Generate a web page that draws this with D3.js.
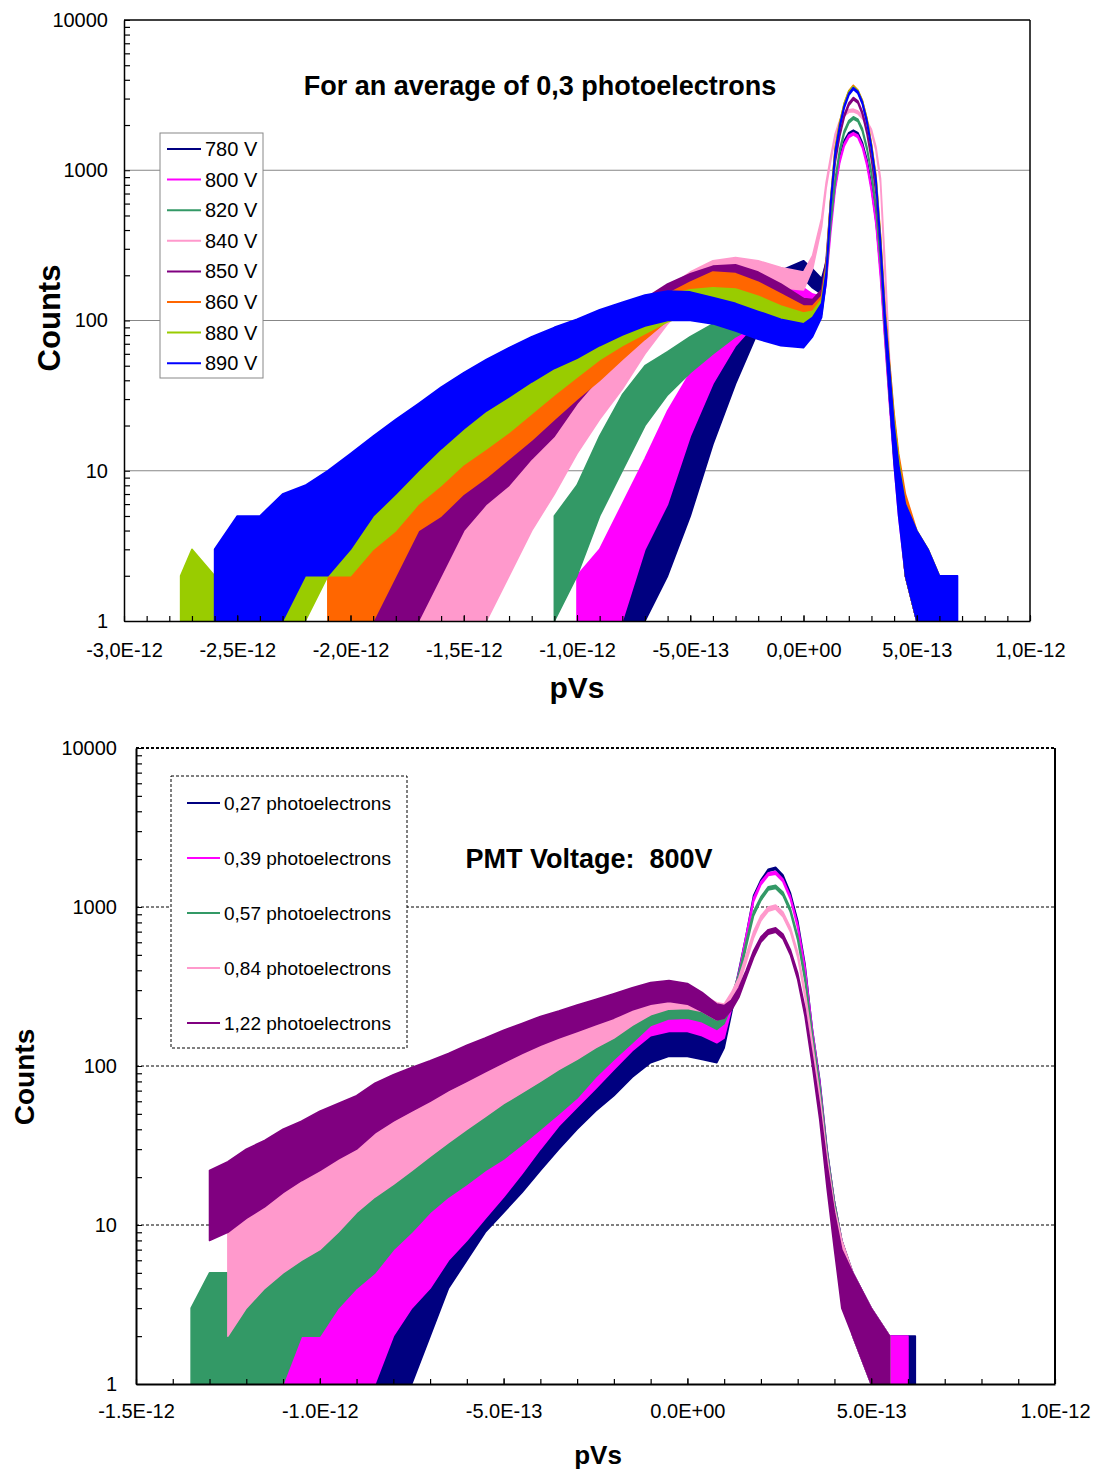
<!DOCTYPE html>
<html><head><meta charset="utf-8">
<script src="https://cdn.jsdelivr.net/npm/d3@7"></script>
<style>body{margin:0;background:#fff}svg{display:block}text{font-family:"Liberation Sans",Arial,sans-serif}</style>
</head><body><svg id="c" width="1101" height="1472"></svg>
<script>
const UNIT = 1e-12;
const N = null;
// ---------------- TOP CHART DATA (x in units of 1E-12 pVs; counts = lower/upper edge of the noise band) -------------
const topX = [-2.75,-2.7,-2.6,-2.5,-2.4, -2.3,-2.2,-2.1,-2.0,-1.9, -1.8,-1.7,-1.6,-1.5,-1.4, -1.3,-1.2,-1.1,-1.0,-0.9,
  -0.8,-0.7,-0.6,-0.5,-0.4, -0.3,-0.2,-0.1,0.0,0.04, 0.08,0.1,0.12,0.14,0.16, 0.18,0.2,0.22,0.24,0.26,
  0.28,0.3,0.32,0.34,0.36, 0.38,0.4,0.42,0.45,0.5, 0.55,0.6,0.65,0.68];
const topNames = ["780 V","800 V","820 V","840 V","850 V","860 V","880 V","890 V"];
const topColors = ["#000080","#FF00FF","#339966","#FF99CC","#800080","#FF6600","#99CC00","#0000FF"];
const lo780 = [N,N,N,N,N, N,N,N,N,N, N,N,N,N,N, N,N,N,N,1,
  1,1,2,5,15, 38,85,150,190,165, 150,210,430,780,1170, 1520,1720,1790,1720,1470,
  1120,760,455,210,75, 29,12,6,2,1, 1,N,N,N];
const hi780 = [N,N,N,N,N, N,N,N,N,N, N,N,N,N,N, N,N,N,N,2,
  3,5,10,20,42, 85,150,215,250,220, 190,245,470,830,1230, 1580,1780,1850,1780,1530,
  1180,800,485,230,88, 38,19,11,5,3, 2,N,N,N];
const lo800 = [N,N,N,N,N, N,N,N,N,N, N,N,N,N,N, N,N,N,1,1,
  1,3,6,17,38, 68,100,125,125,115, 115,175,380,740,1120, 1450,1650,1720,1650,1410,
  1070,720,435,190,70, 27,11,5,2,1, 1,N,N,N];
const hi800 = [N,N,N,N,N, N,N,N,N,N, N,N,N,N,N, N,N,N,2,3,
  6,12,25,45,72, 110,145,170,165,150, 145,205,420,790,1180, 1510,1710,1780,1710,1470,
  1130,760,465,210,82, 36,18,10,5,3, 2,N,N,N];
const lo820 = [N,N,N,N,N, N,N,N,N,N, N,N,N,N,N, N,N,1,2,5,
  10,20,32,45,60, 78,95,105,105,105, 110,185,430,820,1310, 1760,2060,2190,2110,1810,
  1370,930,540,240,80, 30,12,6,2,1, 1,N,N,N];
const hi820 = [N,N,N,N,N, N,N,N,N,N, N,N,N,N,N, N,N,5,8,17,
  32,50,62,78,95, 115,135,145,140,135, 140,215,470,880,1390, 1840,2140,2270,2190,1890,
  1430,980,580,265,95, 42,20,11,6,3, 2,N,N,N];
const lo840 = [N,N,N,N,N, N,N,N,N,N, N,1,1,1,1, 2,4,7,13,22,
  35,60,95,140,180, 190,182,165,160,220, 420,760,1150,1650,2050, 2300,2430,2450,2380,2200,
  2020,1780,1350,820,200, 42,14,6,2,1, 1,N,N,N];
const hi840 = [N,N,N,N,N, N,N,N,N,N, N,2,3,6,7, 10,16,26,40,60,
  85,125,165,210,250, 262,250,225,210,270, 480,830,1230,1750,2150, 2400,2530,2550,2480,2300,
  2120,1870,1430,880,240, 55,22,12,6,3, 2,N,N,N];
const lo850 = [N,N,N,N,N, N,N,N,1,1, 1,1,2,4,6, 8,12,17,28,42,
  60,85,115,145,170, 175,155,125,105,108, 130,225,580,1120,1680, 2250,2700,2950,2800,2350,
  1750,1170,700,290,90, 33,13,6,2,1, 1,N,N,N];
const hi850 = [N,N,N,N,N, N,N,N,2,2, 3,5,8,13,16, 20,30,45,62,82,
  108,140,175,205,230, 235,210,175,140,138, 160,255,630,1200,1760, 2350,2800,3050,2900,2450,
  1850,1240,750,320,110, 48,22,12,6,3, 2,N,N,N];
const lo860 = [N,N,N,N,N, N,N,1,1,1, 2,4,5,7,9, 12,16,22,30,40,
  55,75,100,130,155, 150,130,110,95,98, 120,200,590,1320,2000, 2700,3280,3580,3320,2820,
  2120,1420,860,330,95, 35,14,6,2,1, 1,1,1,N];
const hi860 = [N,N,N,N,N, N,N,2,3,5, 8,12,15,18,21, 26,33,42,55,72,
  92,120,150,180,210, 205,180,150,125,125, 145,230,650,1420,2100, 2800,3380,3680,3420,2920,
  2220,1500,920,370,120, 52,24,13,7,4, 3,2,2,N];
const lo880 = [1,1,1,1,1, 1,1,2,2,3, 4,6,8,11,14, 18,24,32,42,55,
  68,82,98,110,115, 112,98,88,82,88, 112,195,580,1300,1980, 2680,3250,3520,3300,2800,
  2100,1400,840,320,90, 32,12,6,2,1, 1,1,N,N];
const hi880 = [2,3,2,3,4, 5,7,8,10,13, 15,20,24,28,33, 40,50,62,78,95,
  112,130,148,160,165, 162,145,125,112,115, 138,225,640,1400,2080, 2780,3350,3620,3400,2900,
  2200,1480,900,360,115, 50,22,12,6,4, 3,2,N,N];
const lo890 = [N,N,1,1,1, 1,2,2,3,5, 7,10,14,19,25, 31,39,48,56,68,
  80,92,100,100,95, 85,75,68,66,78, 105,180,560,1250,1900, 2600,3150,3450,3250,2750,
  2050,1380,820,300,85, 30,11,5,2,1, 1,1,1,1];
const hi890 = [N,N,3,5,5, 7,8,10,13,17, 22,28,36,45,55, 66,78,90,102,118,
  132,148,157,155,142, 130,115,102,95,105, 130,210,620,1350,2000, 2700,3250,3550,3350,2850,
  2150,1450,880,340,110, 48,20,11,6,4, 3,2,2,2];
const topXTickVals = [-3,-2.5,-2,-1.5,-1,-0.5,0,0.5,1];
const topXTickLabels = ["-3,0E-12","-2,5E-12","-2,0E-12","-1,5E-12","-1,0E-12","-5,0E-13","0,0E+00","5,0E-13","1,0E-12"];
const yTickVals = [1,10,100,1000,10000];
const yTickLabels = ["1","10","100","1000","10000"];

// ---------------- BOTTOM CHART DATA ----------------
const botX = [-1.35,-1.3,-1.25,-1.2,-1.15, -1.1,-1.05,-1.0,-0.95,-0.9, -0.85,-0.8,-0.75,-0.7,-0.65, -0.6,-0.55,-0.5,-0.45,-0.4,
  -0.35,-0.3,-0.25,-0.2,-0.15, -0.1,-0.05,0.0,0.04,0.08, 0.1,0.12,0.14,0.16,0.18, 0.2,0.22,0.24,0.26,0.28,
  0.3,0.32,0.34,0.36,0.38, 0.4,0.42,0.45,0.5,0.55, 0.6,0.62];
const botNames = ["0,27 photoelectrons","0,39 photoelectrons","0,57 photoelectrons","0,84 photoelectrons","1,22 photoelectrons"];
const botColors = ["#000080","#FF00FF","#339966","#FF99CC","#800080"];
const lo027 = [N,1,1,1,1, 1,1,1,1,1, 1,1,1,2,4, 6,9,12,16,22,
  30,40,52,65,85, 105,115,115,110,105, 130,215,360,620,1120, 1420,1670,1720,1530,1170,
  780,405,150,70,22, 9,4,2,1,1, 1,1];
const hi027 = [N,2,2,3,2, 3,3,4,4,5, 6,7,9,11,14, 18,22,28,36,48,
  60,75,92,110,140, 165,175,175,160,145, 155,245,400,670,1180, 1480,1730,1780,1590,1230,
  820,435,170,82,30, 14,8,5,3,2, 2,2];
const lo039 = [N,N,N,N,1, 1,1,1,1,1, 1,2,3,4,6, 8,11,15,21,30,
  42,55,72,95,125, 155,165,165,155,140, 150,230,350,620,1080, 1380,1580,1610,1440,1120,
  740,390,150,68,21, 9,4,2,1,1, 1,N];
const hi039 = [N,N,N,N,2, 3,3,4,5,6, 8,10,13,17,21, 25,32,40,52,65,
  82,100,122,150,190, 225,235,235,215,185, 180,260,390,670,1140, 1440,1640,1670,1500,1170,
  780,420,170,80,29, 14,8,5,3,2, 2,N];
const lo057 = [1,1,1,1,1, 1,2,2,3,4, 5,7,9,12,15, 18,22,26,32,40,
  50,63,85,110,140, 180,198,200,190,170, 185,240,340,560,880, 1100,1280,1310,1180,930,
  620,340,140,64,21, 9,4,2,1,1, N,N];
const hi057 = [3,5,5,6,8, 9,11,14,17,20, 24,28,33,37,42, 46,52,58,68,80,
  95,115,145,175,215, 260,278,275,250,220, 220,275,380,610,940, 1160,1340,1370,1240,980,
  660,370,160,76,29, 14,8,5,3,2, N,N];
const lo084 = [N,N,2,3,4, 5,6,7,9,12, 15,18,22,27,33, 40,48,58,68,80,
  95,110,130,150,180, 210,228,230,220,195, 205,250,320,450,640, 820,940,970,870,700,
  485,270,125,56,19, 8,4,2,1,1, N,N];
const hi084 = [N,N,10,12,15, 18,21,25,30,35, 41,48,55,62,70, 80,92,105,118,135,
  152,170,195,220,255, 290,308,310,280,250, 245,290,360,500,700, 880,1000,1030,930,745,
  520,295,140,66,27, 13,8,5,3,2, N,N];
const lo122 = [N,8,9,11,13, 16,19,22,26,30, 38,45,52,60,70, 80,92,105,120,135,
  150,165,182,200,225, 245,255,245,220,195, 200,225,270,360,480, 600,675,695,630,500,
  350,205,100,46,17, 7,3,2,1,1, N,N];
const hi122 = [N,22,25,30,34, 40,45,52,58,65, 78,88,98,108,120, 135,150,168,185,205,
  222,242,262,285,310, 335,345,330,290,245, 240,260,310,400,530, 650,720,740,675,540,
  385,230,115,56,24, 12,7,5,3,2, N,N];
const botXTickVals = [-1.5,-1,-0.5,0,0.5,1];
const botXTickLabels = ["-1.5E-12","-1.0E-12","-5.0E-13","0.0E+00","5.0E-13","1.0E-12"];

const svg = d3.select('#c');
const FONT = '"Liberation Sans",Arial,sans-serif';

function drawChart(o) {
  const g = svg.append('g');
  const x = d3.scaleLinear().domain([o.xMin*UNIT, o.xMax*UNIT]).range([o.left, o.right]);
  const y = d3.scaleLog().domain([1, 10000]).range([o.bottom, o.top]);
  svg.append('clipPath').attr('id', o.id+'clip').append('rect')
    .attr('x', o.left).attr('y', o.top).attr('width', o.right-o.left).attr('height', o.bottom-o.top);
  g.selectAll('line.grid').data([10,100,1000]).join('line').attr('class','grid')
    .attr('x1', o.left).attr('x2', o.right).attr('y1', d=>y(d)).attr('y2', d=>y(d))
    .attr('stroke', o.gridColor).attr('stroke-width', 1).attr('stroke-dasharray', o.gridDash);
  const sg = g.append('g').attr('clip-path', `url(#${o.id}clip)`);
  o.series.forEach(s => {
    const pts = o.xs.map((xv,i)=>({x:xv, lo:s.lo[i], hi:s.hi[i]}));
    const area = d3.area().defined(d=>d.lo!=null && d.hi!=null)
      .x(d=>x(d.x*UNIT)).y0(d=>y(d.lo)).y1(d=>y(d.hi));
    sg.append('path').attr('d', area(pts)).attr('fill', s.color)
      .attr('stroke', s.color).attr('stroke-width', 1.6).attr('stroke-linejoin','round');
  });
  g.append('line').attr('x1', o.left).attr('x2', o.right).attr('y1', o.top).attr('y2', o.top)
    .attr('stroke','#000').attr('stroke-width', o.axisW).attr('stroke-dasharray', o.topDash);
  g.append('line').attr('x1', o.right).attr('x2', o.right).attr('y1', o.top).attr('y2', o.bottom)
    .attr('stroke','#000').attr('stroke-width', o.axisW);
  const minorX = d3.range(Math.round(o.xMin*10), Math.round(o.xMax*10)+1).map(v=>v/10*UNIT);
  g.append('g').attr('transform',`translate(0,${o.bottom})`)
    .call(d3.axisBottom(x).tickValues(minorX).tickFormat('').tickSizeInner(-5).tickSizeOuter(0))
    .call(a=>a.select('.domain').remove())
    .call(a=>a.selectAll('line').attr('stroke','#000').attr('stroke-width',1.2));
  const minorY = [];
  [1,10,100,1000].forEach(b=>{for(let k=2;k<=9;k++) minorY.push(b*k);});
  g.append('g').attr('transform',`translate(${o.left},0)`)
    .call(d3.axisLeft(y).tickValues(minorY).tickFormat('').tickSizeInner(-6).tickSizeOuter(0))
    .call(a=>a.select('.domain').remove())
    .call(a=>a.selectAll('line').attr('stroke','#000').attr('stroke-width',1.2));
  g.append('g').attr('transform',`translate(0,${o.bottom})`)
    .call(d3.axisBottom(x).tickValues(o.xTickVals.map(v=>v*UNIT)).tickFormat((d,i)=>o.xTickLabels[i])
      .tickSizeInner(-6).tickSizeOuter(0).tickPadding(o.xPad))
    .attr('font-size', 20).attr('font-family', FONT)
    .call(a=>a.select('.domain').attr('stroke','#000').attr('stroke-width', o.axisW))
    .call(a=>a.selectAll('text').attr('fill','#000'));
  g.append('g').attr('transform',`translate(${o.left},0)`)
    .call(d3.axisLeft(y).tickValues(yTickVals).tickFormat((d,i)=>yTickLabels[i])
      .tickSizeInner(-6).tickSizeOuter(0).tickPadding(o.yPad))
    .attr('font-size', 20).attr('font-family', FONT)
    .call(a=>a.select('.domain').attr('stroke','#000').attr('stroke-width', o.axisW))
    .call(a=>a.selectAll('text').attr('fill','#000'));
  g.append('text').attr('x', o.titleX).attr('y', o.titleY).attr('text-anchor','middle')
    .attr('font-weight','bold').attr('font-size', o.titleSize).style('white-space','pre').text(o.title);
  g.append('text').attr('transform',`translate(${o.ylabX},${o.ylabY}) rotate(-90)`).attr('text-anchor','middle')
    .attr('font-weight','bold').attr('font-size', o.ylabSize).text('Counts');
  g.append('text').attr('x', o.xlabX).attr('y', o.xlabY).attr('text-anchor','middle')
    .attr('font-weight','bold').attr('font-size', o.xlabSize).text('pVs');
  const L = o.legend;
  g.append('rect').attr('x', L.x).attr('y', L.y).attr('width', L.w).attr('height', L.h)
    .attr('fill','#fff').attr('stroke', L.stroke).attr('stroke-width',1).attr('stroke-dasharray', L.dash);
  const le = g.selectAll('g.leg').data(o.series).join('g').attr('class','leg')
    .attr('transform', (d,i)=>`translate(0,${L.y0 + i*L.step})`);
  le.append('line').attr('x1', L.lx1).attr('x2', L.lx2).attr('stroke', d=>d.color).attr('stroke-width', 2);
  le.append('text').attr('x', L.tx).attr('dy','0.35em').attr('font-size', L.fs).text(d=>d.name);
}

drawChart({
  id:'top', left:124, right:1030, top:20, bottom:621, xMin:-3, xMax:1,
  xs: topX,
  series: topNames.map((n,i)=>({name:n, color:topColors[i],
    lo:[lo780,lo800,lo820,lo840,lo850,lo860,lo880,lo890][i],
    hi:[hi780,hi800,hi820,hi840,hi850,hi860,hi880,hi890][i]})),
  gridColor:'#878787', gridDash:null, topDash:null, axisW:1.5,
  xTickVals: topXTickVals, xTickLabels: topXTickLabels, xPad:22, yPad:16,
  title:'For an average of 0,3 photoelectrons', titleX:540, titleY:95, titleSize:27,
  ylabX:60, ylabY:318, ylabSize:31, xlabX:577, xlabY:698, xlabSize:30,
  legend:{x:160, y:133, w:103, h:245, stroke:'#888', dash:null, y0:149, step:30.6, lx1:167, lx2:201, tx:205, fs:20}
});

drawChart({
  id:'bot', left:136, right:1055, top:748, bottom:1384, xMin:-1.5, xMax:1,
  xs: botX,
  series: botNames.map((n,i)=>({name:n, color:botColors[i],
    lo:[lo027,lo039,lo057,lo084,lo122][i], hi:[hi027,hi039,hi057,hi084,hi122][i]})),
  gridColor:'#000', gridDash:'3,2', topDash:'3,2', axisW:2,
  xTickVals: botXTickVals, xTickLabels: botXTickLabels, xPad:20, yPad:19,
  title:'PMT Voltage:  800V', titleX:589, titleY:868, titleSize:27,
  ylabX:34, ylabY:1077, ylabSize:28, xlabX:598, xlabY:1464, xlabSize:26,
  legend:{x:171, y:776, w:236, h:272, stroke:'#000', dash:'3,2', y0:803, step:55, lx1:187, lx2:220, tx:224, fs:19}
});
</script></body></html>
